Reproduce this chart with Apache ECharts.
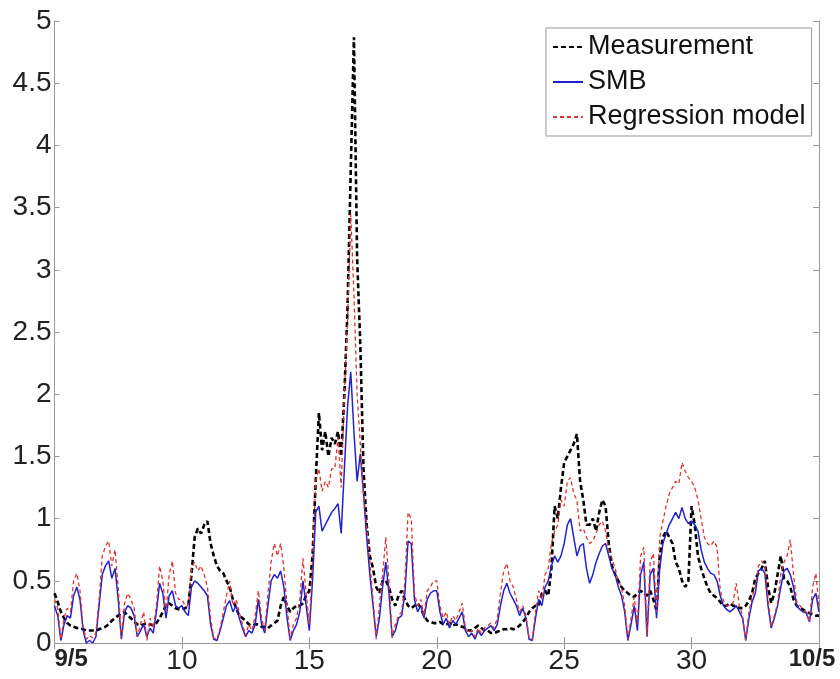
<!DOCTYPE html>
<html>
<head>
<meta charset="utf-8">
<script src="https://cdn.jsdelivr.net/npm/echarts@6/dist/echarts.min.js"></script>
<style>
html,body{margin:0;padding:0;background:#fff;}
#c{width:840px;height:679px;}
</style>
</head>
<body>
<div id="c"></div>
<script>
// Time axis: day of month (9/5 .. 10/5), samples every 3 hours
const START_DAY = 5;
const STEP_DAY = 0.125;
const X_TICKS = [5, 10, 15, 20, 25, 30, 35];
const X_TICK_LABELS = ['9/5', '10', '15', '20', '25', '30', '10/5'];
const SERIES_NAMES = ['Measurement', 'SMB', 'Regression model'];

const measurement = [
  0.40,0.33,0.25,0.20,0.16,0.14,0.13,0.12,   // 5
  0.12,0.11,0.10,0.10,0.10,0.10,0.11,0.12,   // 6
  0.13,0.15,0.18,0.20,0.22,0.24,0.25,0.22,   // 7
  0.20,0.17,0.15,0.14,0.15,0.16,0.15,0.14,   // 8
  0.16,0.20,0.25,0.30,0.32,0.30,0.28,0.27,   // 9
  0.27,0.28,0.30,0.55,0.85,0.92,0.88,0.95,   // 10
  0.98,0.80,0.70,0.62,0.58,0.56,0.50,0.45,   // 11
  0.35,0.28,0.22,0.20,0.18,0.15,0.14,0.15,   // 12
  0.15,0.13,0.13,0.12,0.14,0.16,0.18,0.30,   // 13
  0.37,0.30,0.25,0.28,0.30,0.30,0.32,0.38,   // 14
  0.42,0.70,1.30,1.85,1.55,1.70,1.50,1.65,   // 15
  1.60,1.70,1.50,2.00,2.70,3.80,4.87,3.10,   // 16
  2.40,1.40,0.95,0.70,0.60,0.45,0.40,0.50,   // 17
  0.50,0.45,0.35,0.30,0.38,0.42,0.35,0.30,   // 18
  0.28,0.30,0.32,0.28,0.22,0.18,0.17,0.16,   // 19
  0.16,0.17,0.15,0.15,0.16,0.14,0.15,0.14,   // 20
  0.13,0.12,0.10,0.10,0.12,0.14,0.12,0.10,   // 21
  0.10,0.08,0.08,0.09,0.10,0.11,0.11,0.12,   // 22
  0.11,0.12,0.14,0.17,0.20,0.25,0.28,0.30,   // 23
  0.30,0.40,0.42,0.38,0.60,1.10,1.00,1.25,   // 24
  1.45,1.50,1.55,1.60,1.68,1.30,1.15,0.95,   // 25
  0.95,1.00,0.90,1.05,1.15,1.10,0.80,0.62,   // 26
  0.55,0.50,0.45,0.42,0.40,0.38,0.37,0.40,   // 27
  0.42,0.40,0.38,0.42,0.35,0.26,0.70,0.85,   // 28
  0.90,0.85,0.80,0.65,0.60,0.50,0.45,0.50,   // 29
  1.10,0.95,0.70,0.60,0.52,0.45,0.40,0.38,   // 30
  0.36,0.33,0.30,0.30,0.32,0.30,0.30,0.28,   // 31
  0.28,0.30,0.34,0.40,0.52,0.56,0.60,0.66,   // 32
  0.45,0.32,0.40,0.55,0.70,0.52,0.50,0.45,   // 33
  0.35,0.30,0.28,0.27,0.25,0.24,0.23,0.22,   // 34
  0.22                                       // 35
];

const smb = [
  0.30,0.22,0.02,0.15,0.22,0.20,0.38,0.45,   // 5
  0.35,0.10,0.00,0.02,0.00,0.05,0.30,0.55,   // 6
  0.62,0.66,0.52,0.60,0.35,0.03,0.25,0.30,   // 7
  0.28,0.22,0.05,0.10,0.15,0.05,0.12,0.08,   // 8
  0.25,0.48,0.40,0.20,0.38,0.42,0.30,0.28,   // 9
  0.30,0.25,0.22,0.45,0.50,0.48,0.45,0.42,   // 10
  0.38,0.15,0.03,0.02,0.10,0.20,0.30,0.34,   // 11
  0.25,0.30,0.20,0.12,0.05,0.10,0.08,0.15,   // 12
  0.35,0.15,0.08,0.30,0.50,0.55,0.52,0.58,   // 13
  0.45,0.20,0.02,0.10,0.15,0.25,0.50,0.30,   // 14
  0.10,0.50,1.05,1.10,0.90,0.95,1.00,1.05,   // 15
  1.08,1.12,0.88,1.40,1.90,2.18,1.70,1.30,   // 16
  1.52,1.20,0.85,0.55,0.30,0.05,0.20,0.45,   // 17
  0.65,0.40,0.05,0.10,0.20,0.22,0.40,0.82,   // 18
  0.80,0.35,0.25,0.30,0.20,0.35,0.40,0.42,   // 19
  0.42,0.25,0.15,0.20,0.12,0.18,0.15,0.20,   // 20
  0.25,0.10,0.05,0.08,0.03,0.10,0.06,0.10,   // 21
  0.12,0.14,0.10,0.15,0.30,0.42,0.48,0.40,   // 22
  0.35,0.30,0.22,0.28,0.20,0.03,0.02,0.20,   // 23
  0.35,0.30,0.45,0.50,0.62,0.70,0.65,0.70,   // 24
  0.80,0.95,1.00,0.85,0.70,0.78,0.80,0.60,   // 25
  0.48,0.55,0.65,0.72,0.78,0.80,0.70,0.60,   // 26
  0.55,0.45,0.38,0.25,0.02,0.15,0.30,0.10,   // 27
  0.55,0.65,0.05,0.55,0.60,0.20,0.60,0.80,   // 28
  0.88,0.95,1.00,1.05,1.00,1.09,1.00,0.96,   // 29
  0.98,0.95,0.90,0.75,0.65,0.60,0.56,0.55,   // 30
  0.50,0.38,0.30,0.27,0.25,0.27,0.30,0.25,   // 31
  0.20,0.02,0.20,0.33,0.40,0.58,0.60,0.56,   // 32
  0.30,0.12,0.20,0.30,0.45,0.58,0.60,0.55,   // 33
  0.45,0.30,0.27,0.25,0.24,0.17,0.35,0.40,   // 34
  0.25                                       // 35
];

const regression = [
  0.35,0.28,0.03,0.20,0.28,0.25,0.50,0.56,   // 5
  0.42,0.12,0.03,0.06,0.04,0.08,0.35,0.70,   // 6
  0.78,0.82,0.62,0.75,0.45,0.04,0.32,0.40,   // 7
  0.35,0.28,0.05,0.15,0.25,0.02,0.20,0.12,   // 8
  0.30,0.62,0.50,0.25,0.55,0.66,0.40,0.35,   // 9
  0.35,0.30,0.30,0.60,0.65,0.58,0.62,0.55,   // 10
  0.45,0.20,0.04,0.03,0.12,0.25,0.38,0.50,   // 11
  0.30,0.35,0.25,0.15,0.06,0.15,0.10,0.22,   // 12
  0.42,0.20,0.10,0.40,0.65,0.80,0.70,0.80,   // 13
  0.60,0.30,0.03,0.15,0.20,0.35,0.68,0.40,   // 14
  0.15,0.65,1.30,1.40,1.22,1.30,1.25,1.40,   // 15
  1.40,1.65,1.25,2.00,2.60,3.45,2.80,2.00,   // 16
  1.60,1.20,0.95,0.65,0.35,0.03,0.30,0.55,   // 17
  0.85,0.50,0.04,0.15,0.22,0.25,0.50,1.05,   // 18
  1.00,0.40,0.30,0.35,0.22,0.42,0.45,0.50,   // 19
  0.50,0.30,0.20,0.25,0.15,0.22,0.18,0.25,   // 20
  0.32,0.12,0.08,0.10,0.05,0.12,0.08,0.12,   // 21
  0.14,0.16,0.12,0.20,0.40,0.58,0.64,0.50,   // 22
  0.45,0.35,0.25,0.30,0.22,0.04,0.03,0.25,   // 23
  0.42,0.35,0.55,0.60,0.80,0.90,0.95,1.15,   // 24
  1.10,1.30,1.33,1.20,1.15,0.90,0.92,0.85,   // 25
  0.80,0.82,0.88,0.95,0.98,0.90,0.75,0.68,   // 26
  0.60,0.50,0.45,0.30,0.03,0.20,0.37,0.15,   // 27
  0.70,0.77,0.06,0.65,0.72,0.25,0.85,0.98,   // 28
  1.10,1.20,1.25,1.30,1.28,1.45,1.38,1.33,   // 29
  1.30,1.25,1.15,1.00,0.85,0.80,0.78,0.82,   // 30
  0.77,0.42,0.34,0.30,0.30,0.32,0.48,0.30,   // 31
  0.22,0.02,0.25,0.37,0.45,0.62,0.66,0.62,   // 32
  0.35,0.13,0.22,0.32,0.55,0.65,0.70,0.83,   // 33
  0.55,0.33,0.30,0.27,0.25,0.17,0.45,0.56,   // 34
  0.30                                       // 35
];

function toPairs(arr) {
  return arr.map(function (v, i) { return [START_DAY + i * STEP_DAY, v]; });
}

const FONT = "'Liberation Sans', Arial, Helvetica, sans-serif";
const AX = '#999999';

function xLabel(v) {
  const idx = X_TICKS.indexOf(v);
  const t = idx >= 0 ? X_TICK_LABELS[idx] : String(v);
  if (idx === 0) return '{a|' + t + '}';
  if (idx === X_TICKS.length - 1) return '{b|' + t + '}';
  return t;
}

const chart = echarts.init(document.getElementById('c'), null, { renderer: 'canvas' });
chart.setOption({
  animation: false,
  backgroundColor: '#ffffff',
  grid: { left: 54.5, right: 21, top: 21, bottom: 36, containLabel: false },
  legend: {
    data: SERIES_NAMES,
    orient: 'vertical',
    left: 546, top: 28,
    padding: [4, 6, 4, 6],
    itemGap: 5,
    itemWidth: 30,
    itemHeight: 10,
    backgroundColor: '#ffffff',
    borderColor: '#999999',
    borderWidth: 1,
    itemStyle: { opacity: 0, color: 'rgba(0,0,0,0)', borderWidth: 0 },
    textStyle: { fontFamily: FONT, fontSize: 27, color: '#111', lineHeight: 30 }
  },
  xAxis: [{
    type: 'value', min: 5, max: 35, interval: 5,
    axisLine: { show: true, lineStyle: { color: AX, width: 1 } },
    axisTick: { show: true, inside: true, length: 6, lineStyle: { color: AX } },
    splitLine: { show: false },
    axisLabel: {
      margin: 4, fontFamily: FONT, fontSize: 28, color: '#222',
      alignMinLabel: 'left',
      formatter: xLabel,
      rich: {
        a: { fontFamily: FONT, fontSize: 24, fontWeight: 'bold', color: '#222' },
        b: { fontFamily: FONT, fontSize: 24, fontWeight: 'bold', color: '#222', padding: [0, 14, 0, 0] }
      }
    }
  }, {
    type: 'value', position: 'top', min: 5, max: 35, interval: 5,
    axisLine: { show: true, lineStyle: { color: AX, width: 1 } },
    axisTick: { show: true, inside: true, length: 6, lineStyle: { color: AX } },
    splitLine: { show: false },
    axisLabel: { show: false }
  }],
  yAxis: [{
    type: 'value', min: 0, max: 5, interval: 0.5,
    axisLine: { show: true, lineStyle: { color: AX, width: 1 } },
    axisTick: { show: true, inside: true, length: 5, lineStyle: { color: AX } },
    splitLine: { show: false },
    axisLabel: { margin: 3, fontFamily: FONT, fontSize: 28, color: '#222' }
  }, {
    type: 'value', position: 'right', min: 0, max: 5, interval: 0.5,
    axisLine: { show: true, lineStyle: { color: AX, width: 1 } },
    axisTick: { show: true, inside: true, length: 6, lineStyle: { color: AX } },
    splitLine: { show: false },
    axisLabel: { show: false }
  }],
  series: [{
    name: SERIES_NAMES[0], type: 'line', data: toPairs(measurement),
    xAxisIndex: 0, yAxisIndex: 0, symbol: 'none', showSymbol: false,
    color: '#000000',
    lineStyle: { color: '#000000', width: 2.6, type: [5, 3] }
  }, {
    name: SERIES_NAMES[1], type: 'line', data: toPairs(smb),
    xAxisIndex: 0, yAxisIndex: 0, symbol: 'none', showSymbol: false,
    color: '#2222cc',
    lineStyle: { color: '#2222cc', width: 1.5, type: 'solid' }
  }, {
    name: SERIES_NAMES[2], type: 'line', data: toPairs(regression),
    xAxisIndex: 0, yAxisIndex: 0, symbol: 'none', showSymbol: false,
    color: '#dd3333',
    lineStyle: { color: '#dd3333', width: 1.3, type: [4, 3] }
  }]
});
</script>
</body>
</html>
